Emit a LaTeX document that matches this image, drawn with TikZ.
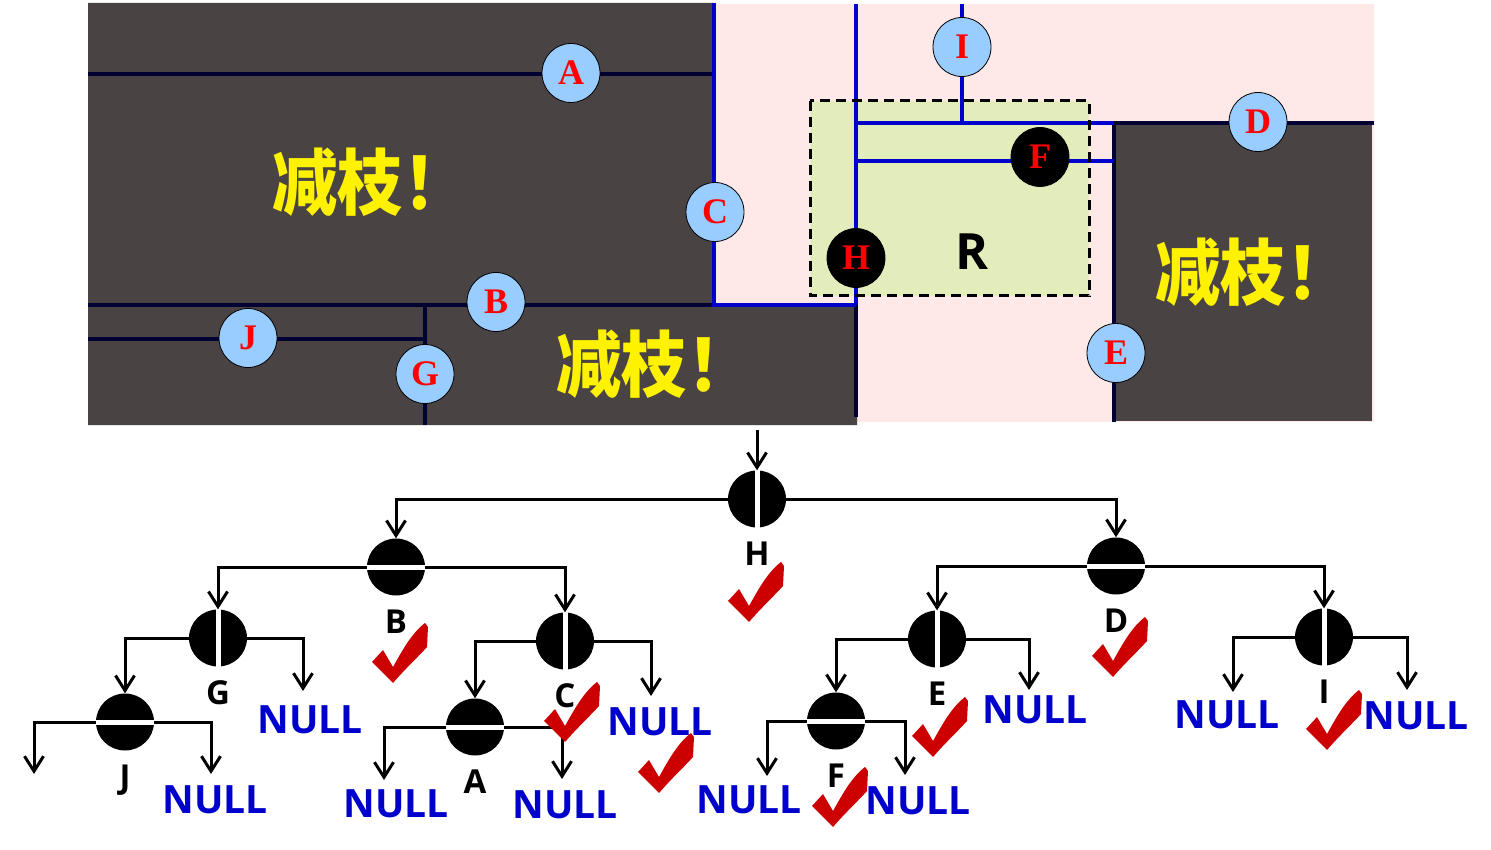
\documentclass[tikz,border=0pt]{standalone}
\usepackage{fontspec}
\usepackage{xcolor}
\usepackage{tikz}
\usetikzlibrary{positioning, shapes.geometric, arrows.meta}
\newfontfamily\cjk{Noto Sans CJK SC}
\newfontfamily\lblfont{Open Sans}
\newfontfamily\letterfont{Liberation Serif}
\definecolor{regiondark}{RGB}{74, 67, 68}
\definecolor{regionpink}{RGB}{255, 232, 232}
\definecolor{regiongreen}{RGB}{227, 237, 187}
\definecolor{ptblue}{RGB}{153, 204, 255}
\definecolor{lineblue}{RGB}{0, 0, 204}
\definecolor{linenavy}{RGB}{0, 0, 51}
\definecolor{nullblue}{RGB}{0, 0, 204}
\definecolor{tickred}{RGB}{204, 0, 0}

\tikzset{
    pt/.style={ellipse, draw=black, thick, fill=ptblue, minimum width=58pt, minimum height=59pt, inner sep=0pt,
        text=red, font=\letterfont\bfseries\fontsize{36}{36}\selectfont},
    tnode/.style={ellipse, fill=black, minimum width=58pt, minimum height=57pt, inner sep=0pt},
    tlbl/.style={font=\lblfont\bfseries\fontsize{33}{33}\selectfont, inner sep=0pt, label distance=14pt},
    nulltxt/.style={font=\lblfont\bfseries\fontsize{39}{39}\selectfont, text=nullblue, inner sep=0pt},
    edge/.style={draw=black, line width=3pt, -{Straight Barb[length=15pt,width=19pt]}},
    cut/.style={text=yellow, font=\cjk\bfseries\fontsize{72}{72}\selectfont, inner sep=0pt, anchor=west},
    split/.style={line width=3.5pt},
    tick/.pic={
        \fill[tickred] (-28,9) -- (-17,-3) -- (-7,14) .. controls (3,-4) and (12,-20) .. (25,-30)
            -- (28,-26) -- (27,-6) .. controls (18,4) and (5,16) .. (-7,30) -- cycle;
    }
}

\begin{document}
\begin{tikzpicture}[x=1pt, y=-1pt]
    \useasboundingbox (0,0) rectangle (1491,850);

    % the plane
    \fill[regionpink] (713,4) rectangle (1374,422);
    \fill[regiondark] (88,3) -- (714,3) -- (714,305) -- (857,305) -- (857,425) -- (88,425) -- cycle;
    \fill[regiondark] (1114,123) rectangle (1372,421);
    \fill[regiongreen] (810,101) rectangle (1089,296);

    % splitting lines
    \draw[split, linenavy] (88,74) -- (714,74);
    \draw[split, linenavy] (88,305) -- (714,305);
    \draw[split, linenavy] (425,305) -- (425,425);
    \draw[split, linenavy] (88,339) -- (425,339);
    \draw[split, linenavy] (856,305) -- (856,417);
    \draw[split, linenavy] (1114,123) -- (1374,123);
    \draw[split, linenavy] (1114,123) -- (1114,422);
    \draw[split, lineblue] (714,3) -- (714,305) -- (856,305);
    \draw[split, lineblue] (856,4) -- (856,305);
    \draw[split, lineblue] (962,4) -- (962,123);
    \draw[split, lineblue] (856,123) -- (1114,123);
    \draw[split, lineblue] (856,161) -- (1114,161);

    % query box
    \draw[black, line width=3pt, dash pattern=on 10pt off 6pt] (810,101) rectangle (1089,296);
    \node[font=\lblfont\bfseries\fontsize{50}{50}\selectfont, inner sep=0pt] (R) at (972,252) {R};

    % points
    \foreach \n/\x/\y in {A/571/73, C/715/212, B/496/302, J/248/338, G/425/374, I/962/47, D/1258/122, E/1116/353}
        \node[pt] (p\n) at (\x,\y) {\n};
    \foreach \n/\x/\y in {F/1040/157, H/856/258}
        \node[pt, fill=black] (p\n) at (\x,\y) {\n};

    % pruned regions
    \node[cut] (cut1) at (272,182) {\scalebox{0.91}[1]{减枝！}};
    \node[cut] (cut2) at (556,364) {\scalebox{0.91}[1]{减枝！}};
    \node[cut] (cut3) at (1155,272) {\scalebox{0.91}[1]{减枝！}};

    % kd-tree
    \foreach \n/\x/\y in {H/757/499, G/218/638, C/565/641, E/937/639, I/1324/637} {
        \node[tnode, label={[tlbl]below:\n}] (t\n) at (\x,\y) {};
        \draw[white, line width=5pt] (t\n.north) -- (t\n.south);
    }
    \foreach \n/\x/\y in {B/396/567, J/125/722, A/475/727, D/1116/566, F/836/721} {
        \node[tnode, label={[tlbl]below:\n}] (t\n) at (\x,\y) {};
        \draw[white, line width=5pt] (t\n.west) -- (t\n.east);
    }

    \coordinate (root) at (757,430);
    \coordinate (gR) at (303,691);
    \coordinate (jL) at (34,774);
    \coordinate (jR) at (211,774);
    \coordinate (cR) at (651,696);
    \coordinate (aL) at (384,780);
    \coordinate (aR) at (562,779);
    \coordinate (eR) at (1029,690);
    \coordinate (iL) at (1233,692);
    \coordinate (iR) at (1407,690);
    \coordinate (fL) at (767,776);
    \coordinate (fR) at (905,775);

    \draw[edge] (root) -- (tH);
    \draw[edge] (tH.west) -| (tB.north);
    \draw[edge] (tH.east) -| (tD.north);
    \draw[edge] (tB.west) -| (tG.north);
    \draw[edge] (tB.east) -| (tC.north);
    \draw[edge] (tG.west) -| (tJ.north);
    \draw[edge] (tG.east) -| (gR);
    \draw[edge] (tJ.west) -| (jL);
    \draw[edge] (tJ.east) -| (jR);
    \draw[edge] (tC.west) -| (tA.north);
    \draw[edge] (tC.east) -| (cR);
    \draw[edge] (tA.west) -| (aL);
    \draw[edge] (tA.east) -| (aR);
    \draw[edge] (tD.west) -| (tE.north);
    \draw[edge] (tD.east) -| (tI.north);
    \draw[edge] (tE.west) -| (tF.north);
    \draw[edge] (tE.east) -| (eR);
    \draw[edge] (tI.west) -| (iL);
    \draw[edge] (tI.east) -| (iR);
    \draw[edge] (tF.west) -| (fL);
    \draw[edge] (tF.east) -| (fR);

    % empty children
    \foreach \n/\x/\y in {gR/310/720, jR/215/800, cR/660/722, aL/396/804, aR/565/805,
                          eR/1035/710, iL/1227/715, iR/1416/716, fL/749/800, fR/918/801}
        \node[nulltxt] (null\n) at (\x,\y) {NULL};

    % visited
    \foreach \x/\y in {400/653, 756/592, 572/712, 666/763, 940/727, 1120/647, 840/797, 1334/720}
        \pic at (\x,\y) {tick};
\end{tikzpicture}
\end{document}
